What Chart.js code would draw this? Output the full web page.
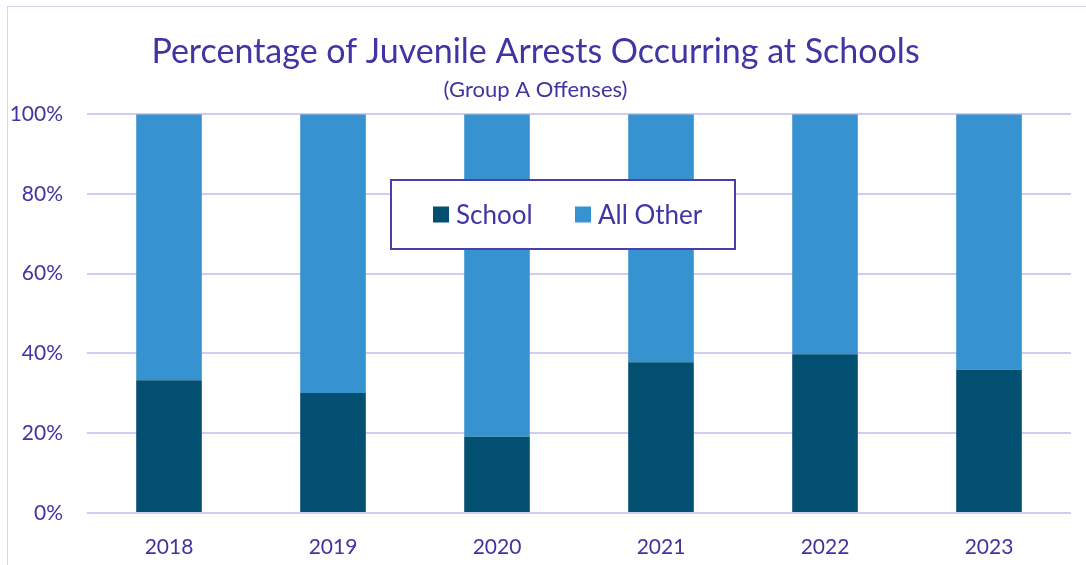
<!DOCTYPE html>
<html>
<head>
<meta charset="utf-8">
<script src="https://cdn.jsdelivr.net/npm/chart.js@4.4.1/dist/chart.umd.min.js"></script>
<style>
  html, body { margin: 0; padding: 0; background: #ffffff; }
  #wrap { position: relative; width: 1086px; height: 565px; overflow: hidden; }
  #frame { position: absolute; left: 7px; top: 6px; width: 1200px; height: 700px;
           border: 1px solid #d6d2f0; box-sizing: border-box; }
  canvas { position: absolute; left: 0; top: 0; }
</style>
</head>
<body>
<div id="wrap">
  <div id="frame"></div>
  <canvas id="chart" width="1086" height="565"></canvas>
</div>
<script>
const years = ['2018', '2019', '2020', '2021', '2022', '2023'];
const schoolPct = [33.3, 30.1, 19.1, 37.8, 39.8, 35.9];
const otherPct = [66.7, 69.9, 80.9, 62.2, 60.2, 64.1];
const yTicks = [0, 20, 40, 60, 80, 100];

const TEXT = '#3f35a3';
const GRID = '#d2cdf0';
const DARK = '#034f72';
const LIGHT = '#3793d0';
const FONT = 'Lato, "Open Sans", sans-serif';

// Boxed legend drawn over the plot area
const boxedLegend = {
  id: 'boxedLegend',
  afterDatasetsDraw(chart) {
    const ctx = chart.ctx;
    const x = 391, y = 180, w = 344, h = 69;
    ctx.save();
    ctx.fillStyle = '#ffffff';
    ctx.fillRect(x, y, w, h);
    ctx.strokeStyle = '#4a3fa8';
    ctx.lineWidth = 2;
    ctx.strokeRect(x, y, w, h);
    ctx.font = '26px ' + FONT;
    ctx.textBaseline = 'middle';
    const cy = y + h / 2;
    const items = [
      { ds: chart.data.datasets[0], sx: 433 },
      { ds: chart.data.datasets[1], sx: 575 }
    ];
    items.forEach(it => {
      ctx.fillStyle = it.ds.backgroundColor;
      ctx.fillRect(it.sx, cy - 8, 16, 16);
      ctx.fillStyle = TEXT;
      ctx.fillText(it.ds.label, it.sx + 23, cy + 1);
    });
    ctx.restore();
  }
};

new Chart(document.getElementById('chart'), {
  type: 'bar',
  data: {
    labels: years,
    datasets: [
      { label: 'School', data: schoolPct, backgroundColor: DARK },
      { label: 'All Other', data: otherPct, backgroundColor: LIGHT }
    ]
  },
  options: {
    responsive: false,
    animation: false,
    devicePixelRatio: 1,
    layout: { padding: { left: 0, right: 15, top: 32, bottom: 0 } },
    datasets: { bar: { barPercentage: 0.4, categoryPercentage: 1.0 } },
    plugins: {
      legend: { display: false },
      tooltip: { enabled: false },
      title: {
        display: true,
        text: 'Percentage of Juvenile Arrests Occurring at Schools',
        color: TEXT,
        font: { family: FONT, size: 34, weight: 'normal' },
        padding: { top: 0, bottom: 4 }
      },
      subtitle: {
        display: true,
        text: '(Group A Offenses)',
        color: TEXT,
        font: { family: FONT, size: 22, weight: 'normal' },
        padding: { top: 0, bottom: 11 }
      }
    },
    scales: {
      x: {
        stacked: true,
        grid: { display: false },
        border: { display: false },
        ticks: { color: TEXT, font: { family: FONT, size: 21 }, padding: 14 },
        afterFit(scale) { scale.height = 52; }
      },
      y: {
        stacked: true,
        min: 0,
        max: 100,
        afterBuildTicks(scale) { scale.ticks = yTicks.map(v => ({ value: v })); },
        grid: { color: GRID, lineWidth: 2, drawTicks: false },
        border: { display: false },
        ticks: {
          color: TEXT,
          font: { family: FONT, size: 21 },
          padding: 24,
          callback: v => v + '%'
        },
        afterFit(scale) { scale.width = 87; }
      }
    }
  },
  plugins: [boxedLegend]
});
</script>
</body>
</html>
